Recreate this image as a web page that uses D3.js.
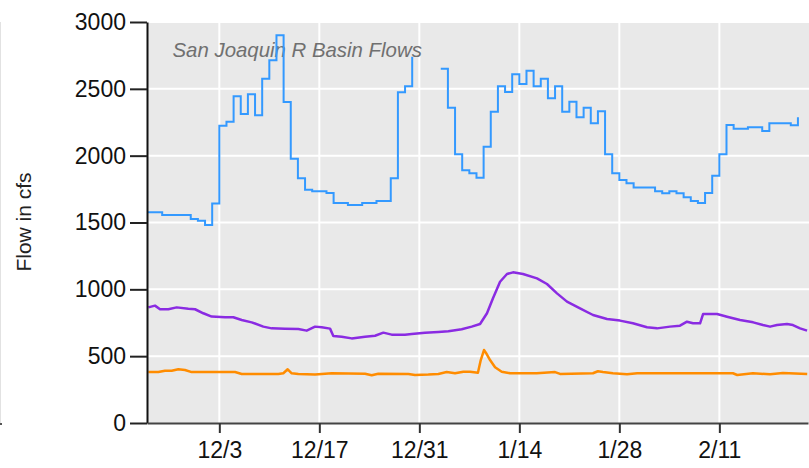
<!DOCTYPE html>
<html>
<head>
<meta charset="utf-8">
<script src="https://d3js.org/d3.v7.min.js"></script>
<style>
  body { margin: 0; background: #fff; }
  svg { display: block; font-family: "Liberation Sans", Arial, sans-serif; }
</style>
</head>
<body>
<svg width="809" height="468"></svg>
<script>
// ---- data (days counted from Nov 23, 2012) ----
var startDate = "2012-11-23";
var xFrom = -0.125, xTo = 92.41;           // visible window, in days
var yTicks = [0, 500, 1000, 1500, 2000, 2500, 3000];
var tickDates = ["2012-12-03", "2012-12-17", "2012-12-31", "2013-01-14", "2013-01-28", "2013-02-11"];

// daily flow, blue step line (null = no data)
var blueFlow = [1576, 1576, 1556, 1556, 1556, 1556, 1526, 1513, 1481, 1643,
  2224, 2254, 2444, 2311, 2459, 2302, 2576, 2713, 2900, 2401,
  1977, 1831, 1745, 1733, 1733, 1721, 1646, 1646, 1631, 1631,
  1646, 1646, 1661, 1661, 1831, 2474, 2519, 2740, null, null,
  null, 2651, 2359, 2010, 1890, 1868, 1835, 2067, 2329, 2519,
  2476, 2609, 2536, 2636, 2519, 2576, 2429, 2519, 2329, 2404,
  2287, 2359, 2242, 2332, 2010, 1868, 1818, 1793, 1761, 1761,
  1761, 1733, 1718, 1733, 1718, 1688, 1661, 1646, 1721, 1850,
  2010, 2229, 2202, 2202, 2212, 2212, 2184, 2242, 2242, 2242,
  2227, 2287];

var purpleDay = [0.06, 0.99, 1.7, 2.86, 4.03, 5.66, 6.6, 7.76, 8.93, 10.8, 11.96, 13.13, 14.53, 16.16,
  17.33, 19.19, 21.06, 22.23, 23.4, 24.33, 25.5, 25.96, 27.13, 28.53, 30.4, 31.8, 32.96, 34.13,
  35.99, 36.93, 38.79, 40.66, 42.06, 43.93, 45.33, 46.5, 47.47, 48.31, 49.3, 50.27, 51.11, 52.51,
  54.47, 55.87, 57.27, 58.67, 60.49, 62.31, 64.27, 66.09, 67.9, 69.87, 71.27, 73.09, 74.49, 75.47,
  76.31, 77.3, 77.72, 79.68, 81.08, 82.9, 84.74, 86.1, 87.1, 88.07, 89.47, 90.3, 91.3, 92.28];
var purpleFlow = [865, 878, 851, 851, 865, 855, 851, 821, 796, 791, 791, 771, 753, 721,
  708, 706, 703, 691, 721, 716, 706, 651, 646, 633, 646, 653, 676, 661,
  661, 666, 676, 681, 686, 701, 721, 741, 821, 933, 1057, 1115, 1127, 1115,
  1082, 1040, 970, 908, 858, 808, 778, 766, 746, 716, 708, 721, 728, 758,
  746, 746, 815, 815, 795, 771, 753, 733, 721, 733, 741, 733, 708, 691];

var orangeDay = [0.06, 1.46, 2.39, 3.33, 4.26, 5.19, 6.13, 8.93, 12.2, 13.13, 18.26, 18.96, 19.57,
  20.13, 21.06, 23.4, 25.73, 30.4, 31.33, 32.26, 36.46, 37.4, 39.26, 40.66, 41.83, 43.0, 44.16,
  45.1, 46.2, 46.6, 47.05, 47.43, 47.9, 48.6, 49.53, 50.7, 54.43, 57.0, 57.7, 62.31, 63.0, 63.7,
  65.1, 67.08, 68.5, 81.9, 82.5, 84.7, 87.1, 88.9, 92.3];
var orangeFlow = [381, 381, 391, 391, 402, 396, 381, 381, 381, 367, 367, 372, 402,
  372, 367, 362, 372, 369, 357, 369, 367, 359, 362, 367, 381, 372, 384,
  384, 376, 471, 546, 516, 471, 417, 384, 372, 372, 381, 367, 372, 387, 381,
  372, 364, 372, 372, 359, 372, 364, 374, 367];

var title = "San Joaquin R Basin Flows";
var yLabel = "Flow in cfs";

// ---- setup ----
var svg = d3.select("svg");
var pLeft = 147, pRight = 808, pTop = 22, pBottom = 423;
var t0 = Date.parse(startDate + "T00:00:00Z");
function day(d) { return new Date(t0 + d * 864e5); }

var x = d3.scaleUtc().domain([day(xFrom), day(xTo)]).range([pLeft, pRight]);
var y = d3.scaleLinear().domain([0, 3000]).range([pBottom, pTop]);
var ticks = tickDates.map(function(s) { return new Date(s + "T00:00:00Z"); });

// faint frame line at far left
svg.append("line").attr("x1", 0.5).attr("x2", 0.5).attr("y1", pTop).attr("y2", pBottom)
  .attr("stroke", "#e2e2e2");
svg.append("rect").attr("x", 0).attr("y", pBottom).attr("width", 2).attr("height", 2).attr("fill", "#555");

svg.append("rect").attr("x", pLeft).attr("y", pTop).attr("width", 809 - pLeft).attr("height", pBottom - pTop)
  .attr("fill", "#e9e9e9");

svg.append("g").selectAll("line").data(yTicks.slice(1)).enter().append("line")
  .attr("x1", pLeft).attr("x2", 809).attr("y1", y).attr("y2", y)
  .attr("stroke", "#fff").attr("stroke-width", 2);
svg.append("g").selectAll("line").data(ticks).enter().append("line")
  .attr("x1", x).attr("x2", x).attr("y1", pTop).attr("y2", pBottom)
  .attr("stroke", "#fff").attr("stroke-width", 2);

svg.append("text").attr("x", 172.5).attr("y", 56.5)
  .attr("font-size", "20.4px").attr("font-style", "italic").attr("fill", "#707070")
  .text(title);

svg.append("defs").append("clipPath").attr("id", "plot").append("rect")
  .attr("x", pLeft).attr("y", pTop - 2).attr("width", 809 - pLeft).attr("height", pBottom - pTop + 2);
var plot = svg.append("g").attr("clip-path", "url(#plot)");

var blue = blueFlow.map(function(v, i) { return { t: day(i), v: v }; });
var purple = purpleDay.map(function(d, i) { return { t: day(d), v: purpleFlow[i] }; });
var orange = orangeDay.map(function(d, i) { return { t: day(d), v: orangeFlow[i] }; });

var line = d3.line()
  .defined(function(d) { return d.v != null; })
  .x(function(d) { return x(d.t); })
  .y(function(d) { return y(d.v); });

plot.append("path").datum(orange).attr("d", line)
  .attr("fill", "none").attr("stroke", "#ff8c00").attr("stroke-width", 2.5).attr("stroke-linejoin", "round");
plot.append("path").datum(purple).attr("d", line)
  .attr("fill", "none").attr("stroke", "#8a2be2").attr("stroke-width", 2.5).attr("stroke-linejoin", "round");
plot.append("path").datum(blue).attr("d", line.curve(d3.curveStepAfter))
  .attr("fill", "none").attr("stroke", "#3399ff").attr("stroke-width", 2);

// ---- axes ----
var yAxis = svg.append("g").attr("transform", "translate(" + pLeft + ",0)")
  .call(d3.axisLeft(y).tickValues(yTicks).tickSize(17).tickSizeOuter(0).tickPadding(4)
    .tickFormat(d3.format("d")));
yAxis.selectAll("text").attr("font-size", "23px").attr("fill", "#111").attr("font-family", null);
yAxis.selectAll("line").attr("stroke", "#222").attr("stroke-width", 2);
yAxis.select(".domain").attr("stroke", "#111").attr("stroke-width", 2);

var xAxis = svg.append("g").attr("transform", "translate(0," + pBottom + ")")
  .call(d3.axisBottom(x).tickValues(ticks).tickSize(10).tickSizeOuter(0).tickPadding(9)
    .tickFormat(d3.utcFormat("%-m/%-d")));
xAxis.selectAll("text").attr("font-size", "23px").attr("fill", "#111").attr("font-family", null);
xAxis.selectAll("line").attr("stroke", "#333").attr("stroke-width", 2);
xAxis.select(".domain").attr("stroke", "#444").attr("stroke-width", 2);

svg.append("text")
  .attr("transform", "translate(31,222) rotate(-90)")
  .attr("text-anchor", "middle").attr("font-size", "21px").attr("fill", "#222")
  .text(yLabel);
</script>
</body>
</html>
